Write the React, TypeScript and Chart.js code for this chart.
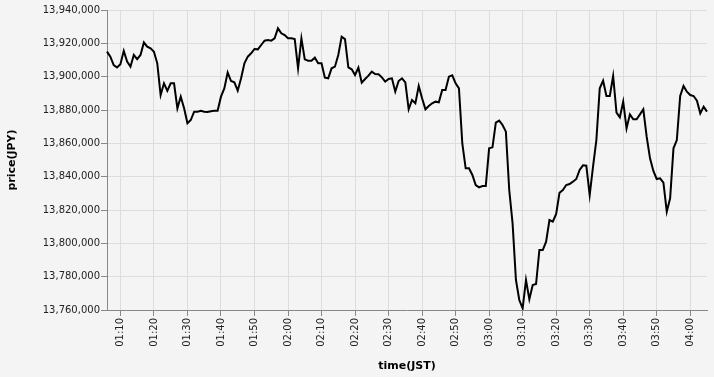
import React, { useEffect, useRef } from "react";
import { Chart, registerables } from "chart.js";

Chart.register(...registerables);

// first sample time (JST) and one sample per minute
const START_TIME = "01:06";
const SAMPLE_COUNT = 180;

const PRICES: number[] = [
  13915000, 13912000, 13907000, 13905500, 13907500, 13915500, 13909000, 13906000, 13913000, 13910500,
  13913000, 13920500, 13918000, 13917000, 13915000, 13908000, 13889000, 13896000, 13891500, 13896000,
  13896000, 13881000, 13888000, 13881000, 13872000, 13874000, 13879000, 13879000, 13879500, 13879000,
  13878800, 13879300, 13879500, 13879500, 13888000, 13893000, 13902500, 13897400, 13896600, 13891600,
  13899000, 13908000, 13912000, 13914000, 13916600, 13916400, 13919000, 13921600, 13922000, 13921600,
  13923000, 13929000, 13926000, 13925000, 13923000, 13923000, 13922600, 13905000, 13923000, 13910400,
  13909600, 13909600, 13911400, 13908000, 13908000, 13899400, 13899000, 13905000, 13906000, 13913000,
  13924000, 13922500, 13905600, 13904400, 13901000, 13905400, 13896400, 13898600, 13900600, 13903000,
  13901600, 13901400, 13899600, 13897000, 13898600, 13899000, 13891000, 13897400, 13899000, 13896600,
  13880400, 13886000, 13884000, 13894400, 13887000, 13880400, 13882400, 13884000, 13885000, 13884600,
  13892000, 13892000, 13900000, 13900800, 13896000, 13893000, 13860000, 13845000, 13845000, 13841000,
  13835000, 13833600, 13834400, 13834400, 13857000, 13857600, 13872400, 13873600, 13871000, 13867000,
  13832000, 13812000, 13778000, 13766000, 13761000, 13778000, 13766400, 13775000, 13775600, 13796000,
  13796000, 13801000, 13814000, 13813000, 13817600, 13830400, 13832000, 13835000, 13835600, 13837000,
  13838600, 13844000, 13846800, 13846600, 13829000, 13846000, 13862000, 13893000, 13897600, 13888400,
  13888400, 13900400, 13878400, 13875600, 13885000, 13869000, 13877400, 13874400, 13874400, 13877400,
  13880400, 13864000, 13851000, 13843400, 13838600, 13839000, 13836400, 13819000, 13827000, 13857000,
  13862000, 13888400, 13894400, 13891000, 13889000, 13888400, 13885600, 13878000, 13882000, 13879000,
];

const Y_MIN = 13760000;
const Y_MAX = 13940000;
const Y_STEP = 20000;

const X_TITLE = "time(JST)";
const Y_TITLE = "price(JPY)";

function buildTimes(start: string, count: number): string[] {
  const [h, m] = start.split(":").map(Number);
  const base = h * 60 + m;
  const out: string[] = [];
  for (let i = 0; i < count; i++) {
    const t = base + i;
    const hh = Math.floor(t / 60);
    const mm = t % 60;
    out.push(String(hh).padStart(2, "0") + ":" + String(mm).padStart(2, "0"));
  }
  return out;
}

const TIMES = buildTimes(START_TIME, SAMPLE_COUNT);

const BG = "#f4f4f4";
const FONT = "'DejaVu Sans', sans-serif";

const isMajor = (i: number) => {
  const label = TIMES[i];
  return !!label && label.endsWith("0");
};

const bgPlugin = {
  id: "bgFill",
  beforeDraw(chart: any) {
    const { ctx, width, height } = chart;
    ctx.save();
    ctx.fillStyle = BG;
    ctx.fillRect(0, 0, width, height);
    ctx.restore();
  },
};

export default function App() {
  const canvasRef = useRef<HTMLCanvasElement | null>(null);

  useEffect(() => {
    document.body.style.margin = "0";
    document.body.style.background = BG;
    const canvas = canvasRef.current;
    if (!canvas) return;
    const chart = new Chart(canvas, {
      type: "line",
      data: {
        labels: TIMES,
        datasets: [
          {
            data: PRICES,
            borderColor: "#000",
            borderWidth: 2,
            pointRadius: 0,
            tension: 0,
            fill: false,
          },
        ],
      },
      plugins: [bgPlugin],
      options: {
        animation: false,
        responsive: false,
        maintainAspectRatio: false,
        layout: { padding: { top: 10, right: 0, left: 0, bottom: 0 } },
        plugins: {
          legend: { display: false },
          tooltip: { enabled: false },
        },
        scales: {
          x: {
            type: "category",
            offset: false,
            afterFit: (scale: any) => {
              scale.height = 67;
              scale.paddingRight = 7;
            },
            border: { display: true, color: "#888", width: 1 },
            grid: {
              color: (ctx: any) => (isMajor(ctx.index) ? "#dddddd" : "rgba(0,0,0,0)"),
              tickColor: (ctx: any) => (isMajor(ctx.index) ? "#888888" : "rgba(0,0,0,0)"),
              tickLength: 6,
              lineWidth: 1,
            },
            ticks: {
              autoSkip: false,
              minRotation: 90,
              maxRotation: 90,
              padding: 2,
              color: "#222",
              font: { family: FONT, size: 10 },
              callback: (_v: any, i: number) => (isMajor(i) ? TIMES[i] : ""),
            },
            title: {
              display: true,
              text: X_TITLE,
              color: "#000",
              font: { family: FONT, size: 11, weight: "bold" },
              padding: { top: 4, bottom: 4 },
            },
          },
          y: {
            type: "linear",
            min: Y_MIN,
            max: Y_MAX,
            afterFit: (scale: any) => {
              scale.width = 107;
            },
            border: { display: true, color: "#888", width: 1 },
            grid: {
              color: "#dddddd",
              tickColor: "#888888",
              tickLength: 6,
              lineWidth: 1,
            },
            ticks: {
              stepSize: Y_STEP,
              padding: 1,
              color: "#222",
              font: { family: FONT, size: 10 },
              callback: (v: any) => Number(v).toLocaleString("en-US"),
            },
            title: {
              display: true,
              text: Y_TITLE,
              color: "#000",
              font: { family: FONT, size: 11, weight: "bold" },
              padding: { top: 6, bottom: 4 },
            },
          },
        },
      },
    } as any);
    return () => chart.destroy();
  }, []);

  return (
    <div style={{ width: 714, height: 377, background: BG }}>
      <canvas ref={canvasRef} width={714} height={377} style={{ display: "block" }} />
    </div>
  );
}
